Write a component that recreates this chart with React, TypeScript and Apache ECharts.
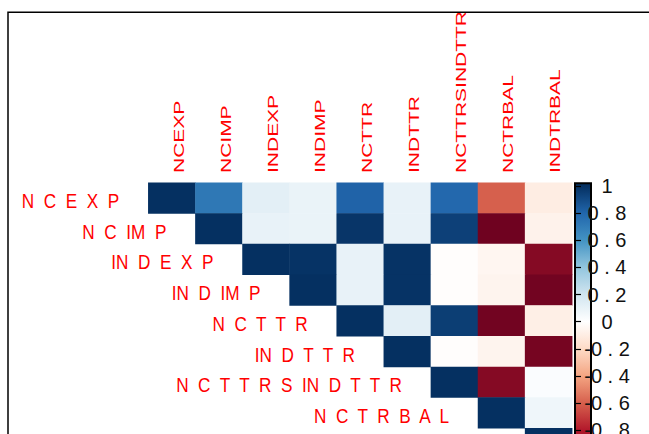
import React, { useEffect, useRef } from "react";
import * as echarts from "echarts";

// ---- data ----
const variables = [
  "NCEXP",
  "NCIMP",
  "INDEXP",
  "INDIMP",
  "NCTTR",
  "INDTTR",
  "NCTTRSINDTTR",
  "NCTRBAL",
  "INDTRBAL",
];

// upper-triangle correlations, each row starts at the diagonal
const corrRow0 = [1, 0.72, 0.12, 0.09, 0.81, 0.1, 0.79, -0.6, -0.1];
const corrRow1 = [1, 0.1, 0.09, 0.98, 0.1, 0.94, -0.98, -0.07];
const corrRow2 = [1, 0.99, 0.1, 0.99, -0.01, -0.05, -0.92];
const corrRow3 = [1, 0.1, 0.99, -0.01, -0.06, -0.97];
const corrRow4 = [1, 0.12, 0.95, -0.97, -0.09];
const corrRow5 = [1, -0.01, -0.06, -0.96];
const corrRow6 = [1, -0.92, 0.02];
const corrRow7 = [1, 0.07];
const corrRow8 = [1];
const corrRows = [corrRow0, corrRow1, corrRow2, corrRow3, corrRow4, corrRow5, corrRow6, corrRow7, corrRow8];

const colorbarTicks = [1, 0.8, 0.6, 0.4, 0.2, 0, -0.2, -0.4, -0.6, -0.8, -1];

// corrplot default palette, from -1 to 1
const palette = [
  "#67001F",
  "#B2182B",
  "#D6604D",
  "#F4A582",
  "#FDDBC7",
  "#FFFFFF",
  "#D1E5F0",
  "#92C5DE",
  "#4393C3",
  "#2166AC",
  "#053061",
];

function spaced(s: string, sep: string): string {
  let out = "";
  for (let k = 0; k < s.length; k++) {
    out += s[k];
    if (k < s.length - 1 && s[k] !== "I") out += sep;
  }
  return out;
}

function tickLabel(v: number): string {
  if (Math.abs(v - 1) < 1e-9) return "1";
  if (Math.abs(v + 1) < 1e-9) return "-1";
  if (Math.abs(v) < 1e-9) return "0";
  return v.toFixed(1).replace(".", " . ");
}

export default function App() {
  const ref = useRef<HTMLDivElement>(null);

  useEffect(() => {
    if (!ref.current) return;
    const chart = echarts.init(ref.current, undefined, { renderer: "svg" });

    const heatData: number[][] = [];
    corrRows.forEach((row, i) => {
      row.forEach((v, k) => {
        heatData.push([i + k, i, v]);
      });
    });

    const barMin = -1.02;
    const barMax = 1.02;
    const stops = palette
      .map((c, idx) => {
        const v = -1 + idx * 0.2;
        return { offset: (barMax - v) / (barMax - barMin), color: c };
      })
      .reverse();
    stops.unshift({ offset: 0, color: palette[10] });
    stops.push({ offset: 1, color: palette[0] });

    const font = "Arial, 'Liberation Sans', sans-serif";

    chart.setOption({
      animation: false,
      backgroundColor: "#ffffff",
      grid: [
        { left: 148.3, top: 182.7, width: 423.9, height: 276.3 },
        {
          left: 575,
          top: 183.3,
          width: 16,
          height: 276.8,
          show: true,
          backgroundColor: {
            type: "linear",
            x: 0,
            y: 0,
            x2: 0,
            y2: 1,
            colorStops: stops,
          },
          borderColor: "#000000",
          borderWidth: 2,
        },
      ],
      xAxis: [
        { type: "category", data: variables, gridIndex: 0, show: false },
        { type: "value", gridIndex: 1, show: false, min: 0, max: 1 },
      ],
      yAxis: [
        { type: "category", data: variables, gridIndex: 0, inverse: true, show: false },
        {
          type: "value",
          gridIndex: 1,
          min: barMin,
          max: barMax,
          position: "right",
          splitLine: { show: false },
          axisLine: { show: false },
          axisTick: {
            show: true,
            customValues: colorbarTicks,
            length: 6,
            lineStyle: { color: "#000000", width: 1.2 },
          },
          axisLabel: {
            customValues: colorbarTicks,
            formatter: (v: number) => tickLabel(v),
            fontSize: 20,
            fontFamily: font,
            color: "#111111",
            align: "center",
            margin: 16,
            padding: [7, 0, 0, 0],
          },
        },
      ],
      visualMap: {
        type: "continuous",
        show: false,
        min: -1,
        max: 1,
        dimension: 2,
        seriesIndex: 0,
        inRange: { color: palette },
      },
      series: [
        {
          type: "heatmap",
          xAxisIndex: 0,
          yAxisIndex: 0,
          data: heatData,
          itemStyle: { borderWidth: 0 },
        },
        {
          type: "custom",
          xAxisIndex: 0,
          yAxisIndex: 0,
          clip: false,
          silent: true,
          z: 5,
          data: variables.map((_, i) => [i, i]),
          encode: { x: 0, y: 1 },
          renderItem: (params: any, api: any) => {
            const i = params.dataIndex;
            const c = api.coord([api.value(0), api.value(1)]);
            const sz = api.size([1, 1]);
            return {
              type: "text",
              x: c[0] - sz[0] / 2 - 29,
              y: c[1] + 3,
              scaleX: 0.86,
              style: {
                text: spaced(variables[i], "  "),
                fill: "#FF0000",
                fontSize: 20,
                fontFamily: font,
                align: "right",
                verticalAlign: "middle",
              },
            };
          },
        },
        {
          type: "custom",
          xAxisIndex: 0,
          yAxisIndex: 0,
          clip: false,
          silent: true,
          z: 5,
          data: variables.map((_, i) => [i, 0]),
          encode: { x: 0, y: 1 },
          renderItem: (params: any, api: any) => {
            const i = params.dataIndex;
            const c = api.coord([api.value(0), api.value(1)]);
            const sz = api.size([1, 1]);
            return {
              type: "text",
              x: c[0] + 7,
              y: c[1] - sz[1] / 2 - 9.7,
              rotation: Math.PI / 2,
              scaleX: 1.5,
              style: {
                text: variables[i],
                fill: "#FF0000",
                fontSize: 14,
                fontFamily: font,
                align: "left",
                verticalAlign: "middle",
              },
            };
          },
        },
      ],
      graphic: [
        {
          type: "rect",
          z: 100,
          silent: true,
          shape: { x: 0, y: 0, width: 649, height: 11.6 },
          style: { fill: "#ffffff" },
        },
        {
          type: "rect",
          z: 101,
          silent: true,
          shape: { x: 8, y: 12.3, width: 700, height: 600 },
          style: { fill: "none", stroke: "#000000", lineWidth: 1.5 },
        },
      ],
    });

    return () => chart.dispose();
  }, []);

  return (
    <div style={{ position: "absolute", left: 0, top: 0, width: 649, height: 434, overflow: "hidden" }}>
      <div ref={ref} style={{ width: 649, height: 520 }} />
    </div>
  );
}
